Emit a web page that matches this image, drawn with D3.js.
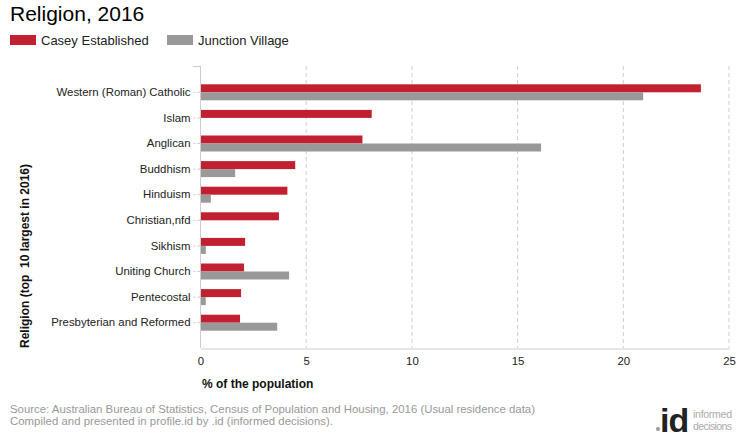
<!DOCTYPE html>
<html><head><meta charset="utf-8">
<script src="https://cdn.jsdelivr.net/npm/d3@7"></script>
<style>body{margin:0;background:#fff;font-family:Arial,"Liberation Sans",sans-serif;}</style>
</head><body>
<svg id="c" width="740" height="440"></svg>
<script>
const categories = ["Western (Roman) Catholic","Islam","Anglican","Buddhism","Hinduism","Christian,nfd","Sikhism","Uniting Church","Pentecostal","Presbyterian and Reformed"];
const caseyValues = [23.67,8.10,7.66,4.48,4.11,3.71,2.11,2.06,1.92,1.87];
const junctionValues = [20.94,0,16.11,1.64,0.49,0,0.25,4.19,0.25,3.63];
const seriesNames = ["Casey Established","Junction Village"];
const seriesColors = ["#C0202F","#999999"];
const xTicks = [0,5,10,15,20,25];

const svg = d3.select("#c");
const font = 'Arial,"Liberation Sans",sans-serif';

svg.append("text").attr("x",10).attr("y",21).attr("font-size",21).attr("fill","#000").attr("font-family",font).text("Religion, 2016");

const legX = [10,167];
seriesNames.forEach((n,i)=>{
  svg.append("rect").attr("x",legX[i]).attr("y",35).attr("width",26).attr("height",10).attr("fill",seriesColors[i]);
  svg.append("text").attr("x",legX[i]+31).attr("y",45).attr("font-size",13).attr("fill","#222").attr("font-family",font).text(n);
});

const x = d3.scaleLinear().domain([0,25]).range([200.5,729]);
const y = d3.scaleBand().domain(categories).range([79.5,335.5]);

// gridlines
svg.append("g").selectAll("line").data(xTicks.slice(1)).join("line")
  .attr("x1",d=>x(d)).attr("x2",d=>x(d)).attr("y1",66).attr("y2",348)
  .attr("stroke","#cfcfcf").attr("stroke-dasharray","4,3").attr("stroke-width",1);

// bars
const g = svg.append("g");
categories.forEach((c,i)=>{
  const cy = y(c)+y.bandwidth()/2;
  [caseyValues[i],junctionValues[i]].forEach((v,j)=>{
    if(v>0) g.append("rect").attr("x",x(0)).attr("y",cy-8+j*8).attr("width",x(v)-x(0)).attr("height",8).attr("fill",seriesColors[j]);
  });
});

// y axis
const yAxis = svg.append("g").attr("transform","translate(200.5,0)")
  .call(d3.axisLeft(y).tickSize(7).tickPadding(3));
yAxis.select(".domain").remove();
yAxis.selectAll("line").attr("stroke","#cccccc").attr("stroke-dasharray","3,2");
yAxis.selectAll("text").attr("font-size",11.4).attr("fill","#222").attr("font-family",font);
svg.append("line").attr("x1",200.5).attr("x2",200.5).attr("y1",66).attr("y2",348).attr("stroke","#cccccc");
svg.append("line").attr("x1",193).attr("x2",200.5).attr("y1",66.5).attr("y2",66.5).attr("stroke","#cccccc");

// x axis
const xAxis = svg.append("g").attr("transform","translate(0,348.5)")
  .call(d3.axisBottom(x).tickValues(xTicks).tickSize(0).tickPadding(8));
xAxis.select(".domain").attr("stroke","#cccccc");
xAxis.selectAll("text").attr("font-size",11.4).attr("fill","#222").attr("font-family",font);

svg.append("text").attr("x",202).attr("y",388).attr("font-size",12).attr("font-weight","bold").attr("fill","#111").attr("font-family",font).text("% of the population");

svg.append("text").attr("transform","translate(29,256) rotate(-90)").attr("text-anchor","middle")
  .attr("font-size",12).attr("font-weight","bold").attr("fill","#111").attr("font-family",font)
  .attr("xml:space","preserve").style("white-space","pre").text("Religion (top  10 largest in 2016)");

// footer
svg.append("text").attr("x",10).attr("y",413).attr("font-size",11.4).attr("fill","#999").attr("font-family",font)
  .attr("textLength",525).text("Source: Australian Bureau of Statistics, Census of Population and Housing, 2016 (Usual residence data)");
svg.append("text").attr("x",10).attr("y",425).attr("font-size",11.4).attr("fill","#999").attr("font-family",font)
  .attr("textLength",323).text("Compiled and presented in profile.id by .id (informed decisions).");

// logo
svg.append("circle").attr("cx",658).attr("cy",429).attr("r",2).attr("fill","#999");
svg.append("text").attr("x",660).attr("y",432).attr("font-size",34).attr("font-weight","bold").attr("fill","#222").attr("font-family",font).attr("letter-spacing",-1).text("id");
svg.append("text").attr("x",693).attr("y",418).attr("font-size",10.5).attr("fill","#aaa").attr("font-family",font).attr("textLength",39).text("informed");
svg.append("text").attr("x",693).attr("y",430).attr("font-size",10.5).attr("fill","#aaa").attr("font-family",font).attr("textLength",39).text("decisions");
</script>
</body></html>
